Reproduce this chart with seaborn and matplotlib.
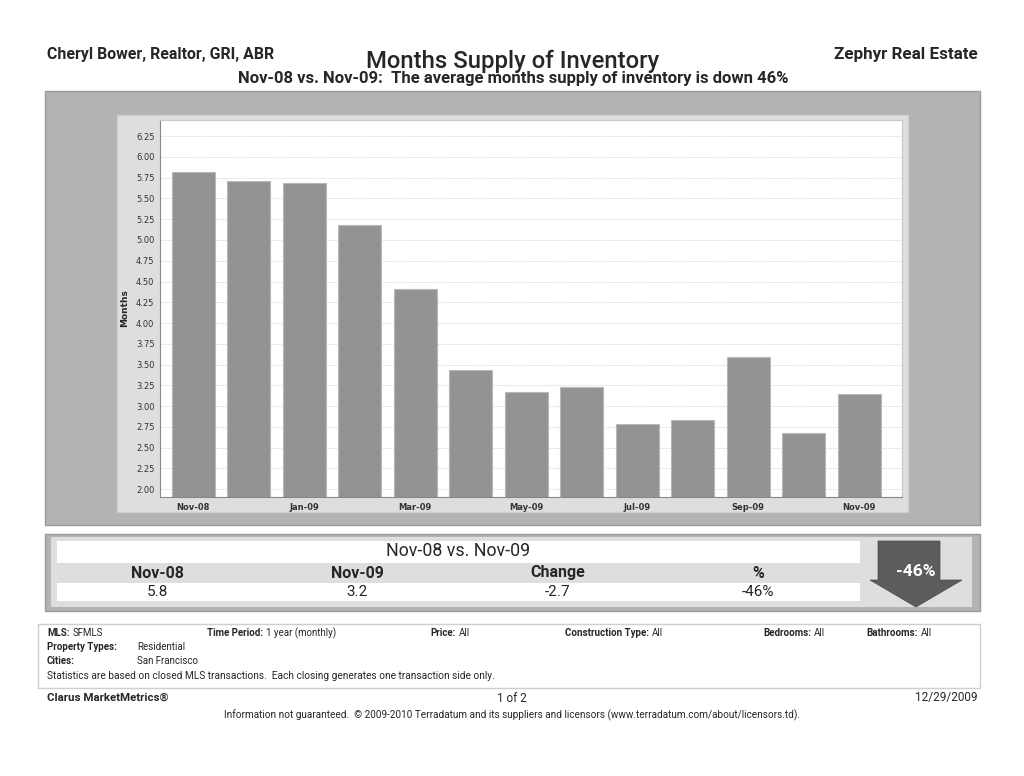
import matplotlib
matplotlib.use("Agg")
import matplotlib.pyplot as plt
from matplotlib.patches import Rectangle, Polygon
import pandas as pd
import seaborn as sns

# data
months = ["Nov-08", "Dec-08", "Jan-09", "Feb-09", "Mar-09", "Apr-09", "May-09",
          "Jun-09", "Jul-09", "Aug-09", "Sep-09", "Oct-09", "Nov-09"]
supply = [5.82, 5.71, 5.69, 5.18, 4.41, 3.44, 3.17, 3.23, 2.79, 2.83, 3.59, 2.68, 3.15]
y_ticks = [2.00, 2.25, 2.50, 2.75, 3.00, 3.25, 3.50, 3.75, 4.00, 4.25, 4.50, 4.75,
           5.00, 5.25, 5.50, 5.75, 6.00, 6.25]
table_cols = ["Nov-08", "Nov-09", "Change", "%"]
table_vals = ["5.8", "3.2", "-2.7", "-46%"]

W, H = 1024, 776
sns.set_style("white")
plt.rcParams['font.family'] = ['Roboto', 'DejaVu Sans']

fig = plt.figure(figsize=(W / 100, H / 100), dpi=100)
fig.patch.set_facecolor("white")
renderer = fig.canvas.get_renderer()


def fx(x):
    return x / W


def fy(y):
    return 1 - y / H


def rect(x0, y0, x1, y1, **kw):
    fig.add_artist(Rectangle((fx(x0), fy(y1)), (x1 - x0) / W, (y1 - y0) / H,
                             transform=fig.transFigure, zorder=-5, **kw))


def txt(x, y, s, width=None, **kw):
    t = fig.text(fx(x), fy(y), s, **kw)
    if width:
        # shrink/grow the font so the text spans the width seen in the reference
        w = t.get_window_extent(renderer).width
        t.set_fontsize(t.get_fontsize() * width / w)
    return t


def right_of(t, gap=3):
    return t.get_window_extent(renderer).x1 + gap


# header
txt(47, 55, "Cheryl Bower, Realtor, GRI, ABR", width=228, fontsize=11, fontweight="bold", va="center")
txt(978, 55, "Zephyr Real Estate", width=144, fontsize=11, fontweight="bold", va="center", ha="right")
txt(513, 61, "Months Supply of Inventory", width=293, fontsize=17, fontweight="medium", va="center", ha="center")
txt(513, 78, "Nov-08 vs. Nov-09:  The average months supply of inventory is down 46%", width=552,
    fontsize=11.5, fontweight="bold", va="center", ha="center")

# chart panels
rect(45, 91, 980, 525, facecolor="#b3b3b3", edgecolor="#9a9a9a", lw=1)
rect(117, 115, 908, 512, facecolor="#dedede", edgecolor="#cfcfcf", lw=1)

ax = fig.add_axes([fx(160), fy(497), (902 - 160) / W, (497 - 120) / H])
df = pd.DataFrame({"month": months, "supply": supply})
sns.barplot(data=df, x="month", y="supply", color="#939393", width=0.78,
            saturation=1, edgecolor="#b8b8b8", linewidth=0.8, ax=ax)
ax.set_facecolor("white")
ax.set_ylim(1.907, 6.444)
ax.set_xlim(-0.6, 12.77)
ax.set_yticks(y_ticks)
ax.set_yticklabels([f"{v:.2f}" for v in y_ticks], fontsize=6, family="DejaVu Sans", color="#333333")
ax.set_xticks(range(0, 13, 2))
ax.set_xticklabels(months[::2], fontsize=6, fontweight="bold", family="DejaVu Sans", color="#333333")
ax.yaxis.grid(True, color="#dcdcdc", linestyle=(0, (2, 1)), linewidth=0.6)
ax.set_axisbelow(True)
ax.tick_params(axis="both", length=2, width=0.6, color="#888888", pad=2, direction="out")
for side in ["top", "right"]:
    ax.spines[side].set_color("#c8c8c8")
for side in ["left", "bottom"]:
    ax.spines[side].set_color("#888888")
ax.set_xlabel("")
ax.set_ylabel("Months", fontsize=6.5, fontweight="bold", family="DejaVu Sans", labelpad=5)

# comparison table
rect(45, 534, 980, 611, facecolor="#b3b3b3", edgecolor="#9a9a9a", lw=1)
rect(51, 537, 972, 607, facecolor="#dedede", edgecolor="none")
rect(57, 541, 860, 563, facecolor="white", edgecolor="none")
rect(57, 583, 860, 601, facecolor="white", edgecolor="none")
txt(458, 551, "Nov-08 vs. Nov-09", width=143, fontsize=12, va="center", ha="center")
col_x = [157, 357, 558, 758]
for cx, head, val in zip(col_x, table_cols, table_vals):
    txt(cx, 573, head, fontsize=11.5, fontweight="bold", va="center", ha="center")
    txt(cx, 592, val, fontsize=11, va="center", ha="center")
arrow = [(fx(x), fy(y)) for x, y in
         [(878, 541), (940, 541), (940, 580), (962, 580), (916, 607), (870, 580), (878, 580)]]
fig.add_artist(Polygon(arrow, closed=True, transform=fig.transFigure, zorder=-4,
                       facecolor="#5c5c5c", edgecolor="#4a4a4a", lw=0.5))
txt(916, 571, "-46%", fontsize=12.5, color="white", fontweight="bold", va="center", ha="center")

# criteria box
rect(38, 624, 980, 688, facecolor="white", edgecolor="#cfcfcf", lw=1)
fs = 7
criteria = [(47, "MLS:", "SFMLS"), (207, "Time Period:", "1 year (monthly)"),
            (430, "Price:", "All"), (565, "Construction Type:", "All"),
            (763, "Bedrooms:", "All"), (866, "Bathrooms:", "All")]
for lx, lab, val in criteria:
    t = txt(lx, 633, lab, fontsize=fs, fontweight="bold", va="center")
    fig.text(right_of(t) / W, fy(633), val, fontsize=fs, va="center")
txt(47, 647, "Property Types:", fontsize=fs, fontweight="bold", va="center")
txt(137, 647, "Residential", fontsize=fs, va="center")
txt(47, 661, "Cities:", fontsize=fs, fontweight="bold", va="center")
txt(137, 661, "San Francisco", fontsize=fs, va="center")
txt(47, 676, "Statistics are based on closed MLS transactions.  Each closing generates one transaction side only.",
    width=450, fontsize=fs, va="center")

# footer
txt(47, 698, "Clarus MarketMetrics\u00ae", width=120, fontsize=8.5, fontweight="bold", va="center")
txt(512, 698, "1 of 2", fontsize=8.5, va="center", ha="center")
txt(978, 698, "12/29/2009", fontsize=8.5, va="center", ha="right")
txt(512, 715, "Information not guaranteed.  \u00a9 2009-2010 Terradatum and its suppliers and licensors "
    "(www.terradatum.com/about/licensors.td).", width=575, fontsize=7.5, va="center", ha="center")

fig.savefig("out.png", dpi=100)
